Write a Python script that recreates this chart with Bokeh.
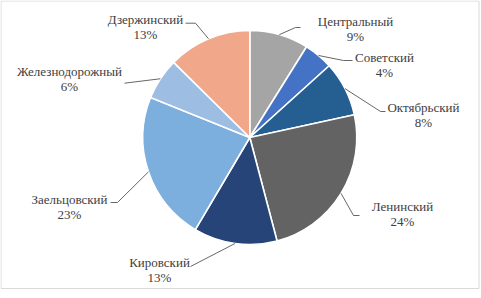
import math
from bokeh.plotting import figure
from bokeh.models import Range1d, ColumnDataSource
from bokeh.core.properties import value
from bokeh.embed import file_html
from bokeh.resources import INLINE

# ---- data ----
districts = ["Центральный", "Советский", "Октябрьский", "Ленинский",
             "Кировский", "Заельцовский", "Железнодорожный", "Дзержинский"]
shares = [8.9, 4.4, 8.3, 24.3, 12.6, 22.6, 6.3, 12.6]
colors = ["#A5A5A5", "#4472C4", "#255E91", "#636363",
          "#264478", "#7CAFDD", "#9DBDE3", "#F1A78A"]

# ---- layout (image pixel coordinates, y downwards) ----
W, H = 481, 298
CX, CY, R = 249.3, 137.0, 107.0
label_pos = [(355, 21), (384, 57), (423, 107), (402, 206),
             (159, 262), (69, 199), (69, 71), (145, 19)]
leader_elbow = [(295, 27), (343, 60), (380, 111), (353, 215),
                (190, 266), (117, 202), (124, 82.7), (195, 22.7)]
leader_end = [(300, 27), (352, 60), (385, 111), (359, 215),
              (190, 266), (110, 202), (124, 82.7), (185, 22.7)]
LINE_GAP = 14.5
FONT = value("Liberation Serif")


def fy(y):
    return H - y


total = sum(shares)
starts, ends, mids = [], [], []
cum = 0.0
for v in shares:
    a0 = cum / total * 2 * math.pi
    cum += v
    a1 = cum / total * 2 * math.pi
    starts.append(math.pi / 2 - a0)
    ends.append(math.pi / 2 - a1)
    mids.append((a0 + a1) / 2)

p = figure(width=W, height=H, output_backend="svg", toolbar_location=None,
           x_range=Range1d(0, W), y_range=Range1d(0, H),
           x_axis_type=None, y_axis_type=None, min_border=0,
           background_fill_color="white", border_fill_color="white")
p.grid.visible = False
p.outline_line_color = None

# chart border
p.quad(left=[0.5], right=[478.5], top=[fy(0.5)], bottom=[fy(288.0)],
       fill_color=None, line_color="#D9D9D9", line_width=1)

src = ColumnDataSource(dict(start=starts, end=ends, color=colors))
p.wedge(x=CX, y=fy(CY), radius=R, start_angle="start", end_angle="end",
        direction="clock", fill_color="color", line_color="white",
        line_width=1.6, source=src)

# leader lines
xs, ys = [], []
for m, el, en in zip(mids, leader_elbow, leader_end):
    sx = CX + R * math.sin(m)
    sy = CY - R * math.cos(m)
    xs.append([sx, el[0], en[0]])
    ys.append([fy(sy), fy(el[1]), fy(en[1])])
p.multi_line(xs=xs, ys=ys, line_color="#404040", line_width=0.8)

# labels
pcts = [f"{round(v / total * 100)}%" for v in shares]
p.text(x=[lp[0] for lp in label_pos], y=[fy(lp[1]) for lp in label_pos],
       text=districts, text_align="center", text_baseline="middle",
       text_font=FONT, text_font_size="13px",
       text_color="#404040")
p.text(x=[lp[0] for lp in label_pos], y=[fy(lp[1] + LINE_GAP) for lp in label_pos],
       text=pcts, text_align="center", text_baseline="middle",
       text_font=FONT, text_font_size="13px",
       text_color="#404040")

open("out.html", "w").write(file_html(p, INLINE))
